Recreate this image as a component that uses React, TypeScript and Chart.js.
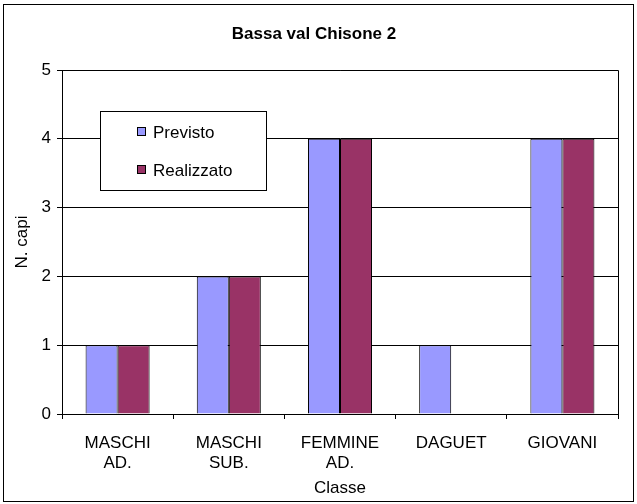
import React, { useEffect, useRef } from "react";
import { Chart, registerables } from "chart.js";

Chart.register(...registerables);

const categories: string[][] = [["MASCHI", "AD."], ["MASCHI", "SUB."], ["FEMMINE", "AD."], ["DAGUET"], ["GIOVANI"]];
const previsto: number[] = [1, 2, 4, 1, 4];
const realizzato: number[] = [1, 2, 4, 0, 4];
const seriesNames: string[] = ["Previsto", "Realizzato"];
const seriesColors: string[] = ["#9999FF", "#993366"];
const titleText = "Bassa val Chisone 2";
const yTitle = "N. capi";
const xTitle = "Classe";

const FONT = "'Liberation Sans', Arial, sans-serif";

const framePlugin = {
  id: "frame",
  beforeDraw(chart: any) {
    const ctx = chart.ctx;
    ctx.save();
    ctx.fillStyle = "#fff";
    ctx.fillRect(0, 0, chart.width, chart.height);
    ctx.strokeStyle = "#000";
    ctx.lineWidth = 1;
    ctx.strokeRect(3.5, 4.5, chart.width - 7, chart.height - 7);
    ctx.restore();
  },
  afterDraw(chart: any) {
    const ctx = chart.ctx;
    const a = chart.chartArea;
    ctx.save();
    ctx.strokeStyle = "#000";
    ctx.lineWidth = 1;
    ctx.beginPath();
    ctx.moveTo(Math.round(a.left) + 0.5, Math.round(a.top) + 0.5);
    ctx.lineTo(Math.round(a.right) + 0.5, Math.round(a.top) + 0.5);
    ctx.lineTo(Math.round(a.right) + 0.5, Math.round(a.bottom) + 0.5);
    ctx.stroke();
    // legend box
    const lx = 100.5, ly = 111.5, lw = 166, lh = 79;
    ctx.fillStyle = "#fff";
    ctx.fillRect(lx, ly, lw, lh);
    ctx.strokeRect(lx, ly, lw, lh);
    const rows = [132, 170];
    ctx.font = `17px ${FONT}`;
    ctx.textBaseline = "middle";
    ctx.textAlign = "left";
    rows.forEach((cy, i) => {
      ctx.fillStyle = seriesColors[i];
      ctx.fillRect(137.5, cy - 4.5, 8, 8);
      ctx.strokeStyle = "#000";
      ctx.strokeRect(137.5, cy - 4.5, 8, 8);
      ctx.fillStyle = "#000";
      ctx.fillText(seriesNames[i], 153, cy + 1);
    });
    ctx.restore();
  },
};

export default function App() {
  const ref = useRef<HTMLCanvasElement>(null);
  useEffect(() => {
    if (!ref.current) return;
    const chart = new Chart(ref.current, {
      type: "bar",
      data: {
        labels: categories as any,
        datasets: [
          { label: seriesNames[0], data: previsto, backgroundColor: seriesColors[0], borderColor: "#000", borderWidth: 1 },
          { label: seriesNames[1], data: realizzato, backgroundColor: seriesColors[1], borderColor: "#000", borderWidth: 1 },
        ],
      },
      options: {
        animation: false,
        responsive: false,
        devicePixelRatio: 1,
        layout: { padding: { left: 10, right: 19, top: 11, bottom: 3 } },
        datasets: { bar: { categoryPercentage: 0.576, barPercentage: 1 } },
        plugins: {
          legend: { display: false },
          tooltip: { enabled: false },
          title: {
            display: true,
            text: titleText,
            color: "#000",
            font: { family: FONT, size: 17, weight: "bold" },
            padding: { top: 13, bottom: 25.6 },
          },
        },
        scales: {
          x: {
            grid: { display: true, drawOnChartArea: false, drawTicks: true, tickLength: 5, color: "#000", offset: true },
            border: { display: true, color: "#000" },
            ticks: { color: "#000", font: { family: FONT, size: 17 }, padding: 14, maxRotation: 0, autoSkip: false },
            title: { display: true, text: xTitle, color: "#000", font: { family: FONT, size: 17 }, padding: { top: 0, bottom: 2 } },
            afterFit: (s: any) => { s.height = 87; },
          },
          y: {
            min: 0,
            max: 5,
            grid: { color: "#000", tickLength: 5 },
            border: { display: true, color: "#000" },
            ticks: { stepSize: 1, color: "#000", font: { family: FONT, size: 17 }, padding: 6 },
            title: { display: true, text: yTitle, color: "#000", font: { family: FONT, size: 17 }, padding: { top: 2, bottom: 0 } },
            afterFit: (s: any) => { s.width = 52; },
          },
        },
      },
      plugins: [framePlugin],
    });
    return () => chart.destroy();
  }, []);
  return (
    <div style={{ position: "fixed", left: 0, top: 0, width: 637, height: 504 }}>
      <canvas ref={ref} width={637} height={504} style={{ display: "block", width: 637, height: 504 }} />
    </div>
  );
}
